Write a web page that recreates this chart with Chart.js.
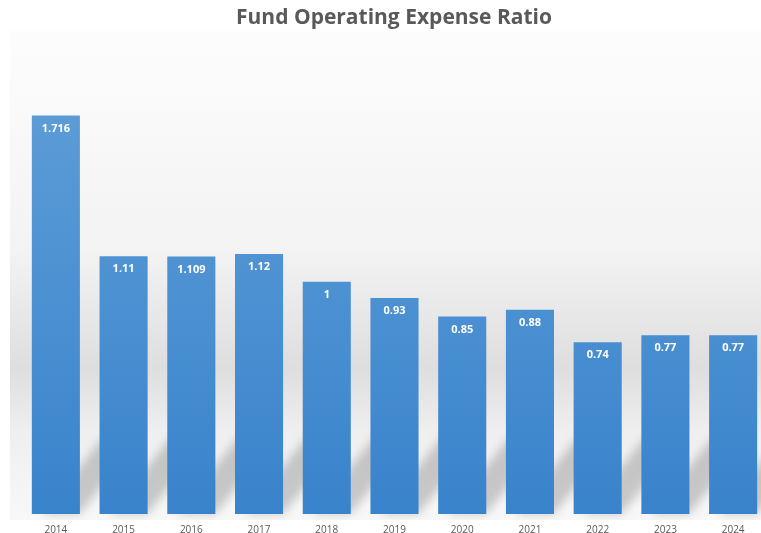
<!DOCTYPE html>
<html>
<head>
<meta charset="utf-8">
<script src="https://cdn.jsdelivr.net/npm/chart.js@4"></script>
<style>
  html, body { margin: 0; padding: 0; background: #fff; overflow: hidden; }
  #wrap { position: absolute; left: 0; top: 0; width: 775px; height: 538px; }
</style>
</head>
<body>
<div id="wrap"><canvas id="expenseChart" width="775" height="538"></canvas></div>
<script>
  // Chart data
  const years = ['2014', '2015', '2016', '2017', '2018', '2019', '2020', '2021', '2022', '2023', '2024'];
  const expenseRatio = [1.716, 1.11, 1.109, 1.12, 1, 0.93, 0.85, 0.88, 0.74, 0.77, 0.77];
  const valueLabels = ['1.716', '1.11', '1.109', '1.12', '1', '0.93', '0.85', '0.88', '0.74', '0.77', '0.77'];
  const chartTitle = 'Fund Operating Expense Ratio';

  const textGrey = '#595959';

  // Panel background with soft grey band, floor shadows, value labels and title
  const backdrop = {
    id: 'backdrop',
    beforeDraw(chart) {
      const ctx = chart.ctx;
      ctx.save();
      ctx.fillStyle = '#ffffff';
      ctx.fillRect(0, 0, chart.width, chart.height);
      const g = ctx.createLinearGradient(0, 30, 0, 520);
      g.addColorStop(0, '#fdfdfd');
      g.addColorStop(0.45, '#f3f3f3');
      g.addColorStop(0.69, '#dedede');
      g.addColorStop(0.82, '#efefef');
      g.addColorStop(1, '#f8f8f8');
      ctx.fillStyle = g;
      ctx.fillRect(10, 30, chart.width - 10, 490);
      ctx.restore();
    },
    beforeDatasetsDraw(chart) {
      const ctx = chart.ctx;
      const meta = chart.getDatasetMeta(0);
      ctx.save();
      ctx.beginPath();
      ctx.rect(10, 30, chart.width - 10, 490);
      ctx.clip();
      ctx.filter = 'blur(5px)';
      ctx.fillStyle = 'rgba(80, 80, 80, 0.28)';
      meta.data.forEach(function (bar) {
        const x0 = bar.x - bar.width / 2;
        const x1 = bar.x + bar.width / 2;
        const yb = bar.base;
        ctx.beginPath();
        ctx.moveTo(x0 + 10, yb);
        ctx.lineTo(x1, yb);
        ctx.lineTo(x1 + 60, yb - 75);
        ctx.lineTo(x0 + 70, yb - 75);
        ctx.closePath();
        ctx.fill();
      });
      ctx.restore();
    },
    afterDatasetsDraw(chart) {
      const ctx = chart.ctx;
      const meta = chart.getDatasetMeta(0);
      ctx.save();
      ctx.fillStyle = '#ffffff';
      ctx.font = 'bold 11px "Open Sans", sans-serif';
      ctx.textAlign = 'center';
      ctx.textBaseline = 'middle';
      meta.data.forEach(function (bar, i) {
        ctx.fillText(valueLabels[i], bar.x, bar.y + 13);
      });
      ctx.fillStyle = textGrey;
      ctx.font = 'bold 21px "Open Sans", sans-serif';
      ctx.fillText(chartTitle, 394, 18);
      ctx.restore();
    }
  };

  function barFill(context) {
    const area = context.chart.chartArea;
    if (!area) return '#4a8fd2';
    const g = context.chart.ctx.createLinearGradient(0, area.top, 0, area.bottom);
    g.addColorStop(0, '#5d9dd7');
    g.addColorStop(1, '#3983cc');
    return g;
  }

  new Chart(document.getElementById('expenseChart'), {
    type: 'bar',
    data: {
      labels: years,
      datasets: [
        {
          data: expenseRatio,
          backgroundColor: barFill,
          borderWidth: 0,
          barPercentage: 0.71,
          categoryPercentage: 1,
        },
      ],
    },
    options: {
      responsive: false,
      animation: false,
      layout: { padding: { left: 22, right: 8, top: 96, bottom: 0 } },
      plugins: {
        legend: { display: false },
        title: { display: false },
        tooltip: { enabled: false },
      },
      scales: {
        x: {
          grid: { display: false },
          border: { display: false },
          ticks: {
            color: textGrey,
            font: { family: '"Open Sans", sans-serif', size: 10 },
            padding: 2,
          },
        },
        y: {
          display: false,
          min: 0,
          max: 1.8,
        },
      },
    },
    plugins: [backdrop],
  });
</script>
</body>
</html>
